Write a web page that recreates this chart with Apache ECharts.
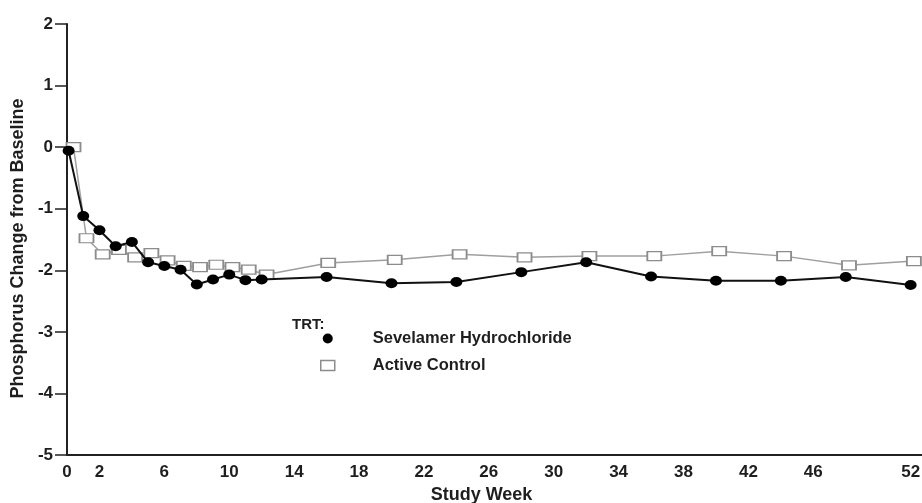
<!DOCTYPE html>
<html lang="en">
<head>
    <meta charset="UTF-8">
    <title>Phosphorus Change from Baseline</title>
    <script src="https://cdn.jsdelivr.net/npm/echarts/dist/echarts.min.js"></script>
    <style>
        html, body { margin: 0; padding: 0; background: #fff; }
    </style>
</head>
<body>
    <div id="chart" style="width: 922px; height: 503px;"></div>

    <script>
        // values
        let sevelamerWeeks = [0.1, 1, 2, 3, 4, 5, 6, 7, 8, 9, 10, 11, 12, 16, 20, 24, 28, 32, 36, 40, 44, 48, 52];
        let sevelamerValues = [-0.06, -1.12, -1.35, -1.61, -1.54, -1.87, -1.93, -1.99, -2.23, -2.15, -2.07, -2.16, -2.15,
            -2.11, -2.21, -2.19, -2.03, -1.87, -2.10, -2.17, -2.17, -2.11, -2.24];

        let controlWeeks = [0.4, 1.2, 2.2, 3.2, 4.2, 5.2, 6.2, 7.2, 8.2, 9.2, 10.2, 11.2, 12.3, 16.1, 20.2, 24.2, 28.2, 32.2, 36.2, 40.2, 44.2, 48.2, 52.2];
        let controlValues = [0.0, -1.48, -1.74, -1.67, -1.79, -1.72, -1.84, -1.93, -1.95, -1.91, -1.95, -1.99, -2.07,
            -1.88, -1.83, -1.74, -1.79, -1.77, -1.77, -1.69, -1.77, -1.92, -1.85];

        let weekTicks = [0, 2, 6, 10, 14, 18, 22, 26, 30, 34, 38, 42, 46, 52];

        let sans = '"Liberation Sans", Arial, sans-serif';
        let ink = '#1e1e1e';

        let chart = echarts.init(document.getElementById('chart'));

        let pairs = (xs, ys) => xs.map((x, i) => [x, ys[i]]);

        let option = {
            animation: false,
            grid: { left: 67, right: 0, top: 24, bottom: 48, outerBoundsMode: 'none' },
            title: {
                text: 'TRT:',
                left: 292,
                top: 317,
                padding: 0,
                textStyle: { fontFamily: sans, fontWeight: 'bold', fontSize: 15, color: ink }
            },
            legend: {
                orient: 'vertical',
                left: 320,
                top: 330,
                itemWidth: 14,
                itemHeight: 10,
                itemGap: 10,
                padding: 0,
                textStyle: { fontFamily: sans, fontWeight: 'bold', fontSize: 16.5, color: ink, padding: [0, 0, 0, 33] },
                data: [
                    { name: 'Sevelamer Hydrochloride', icon: 'circle', itemStyle: { color: '#000', borderWidth: 0 } },
                    { name: 'Active Control', icon: 'rect', itemStyle: { color: '#fff', borderColor: '#8c8c8c', borderWidth: 1.5 } }
                ]
            },
            xAxis: {
                type: 'value',
                min: 0,
                max: 52.7,
                name: 'Study Week',
                nameLocation: 'middle',
                nameGap: 25,
                nameTextStyle: { fontFamily: sans, fontWeight: 'bold', fontSize: 18, color: ink, padding: [0, 26, 0, 0] },
                axisLine: { onZero: false, lineStyle: { color: '#222', width: 2 } },
                axisTick: { show: false },
                splitLine: { show: false },
                axisLabel: {
                    customValues: weekTicks,
                    margin: 9,
                    fontFamily: sans,
                    fontWeight: 'bold',
                    fontSize: 17,
                    color: ink
                }
            },
            yAxis: {
                type: 'value',
                min: -5,
                max: 2,
                interval: 1,
                name: 'Phosphorus Change from Baseline',
                nameLocation: 'middle',
                nameGap: 37,
                nameTextStyle: { fontFamily: sans, fontWeight: 'bold', fontSize: 18, color: ink, padding: [0, 18, 0, 0] },
                axisLine: { show: true, onZero: false, lineStyle: { color: '#222', width: 2 } },
                axisTick: { show: true, length: 12, lineStyle: { color: '#222', width: 1.5 } },
                splitLine: { show: false },
                axisLabel: { margin: 14, fontFamily: sans, fontWeight: 'bold', fontSize: 17, color: ink }
            },
            series: [
                {
                    name: 'Active Control',
                    type: 'line',
                    data: pairs(controlWeeks, controlValues),
                    symbol: 'rect',
                    symbolSize: [14, 9],
                    lineStyle: { color: '#9f9f9f', width: 1.5 },
                    itemStyle: { color: '#fff', borderColor: '#8c8c8c', borderWidth: 1.5 },
                    z: 2
                },
                {
                    name: 'Sevelamer Hydrochloride',
                    type: 'line',
                    data: pairs(sevelamerWeeks, sevelamerValues),
                    symbol: 'circle',
                    symbolSize: [12, 10],
                    lineStyle: { color: '#111', width: 2 },
                    itemStyle: { color: '#000' },
                    z: 3
                }
            ]
        };

        chart.setOption(option);
    </script>
</body>
</html>
